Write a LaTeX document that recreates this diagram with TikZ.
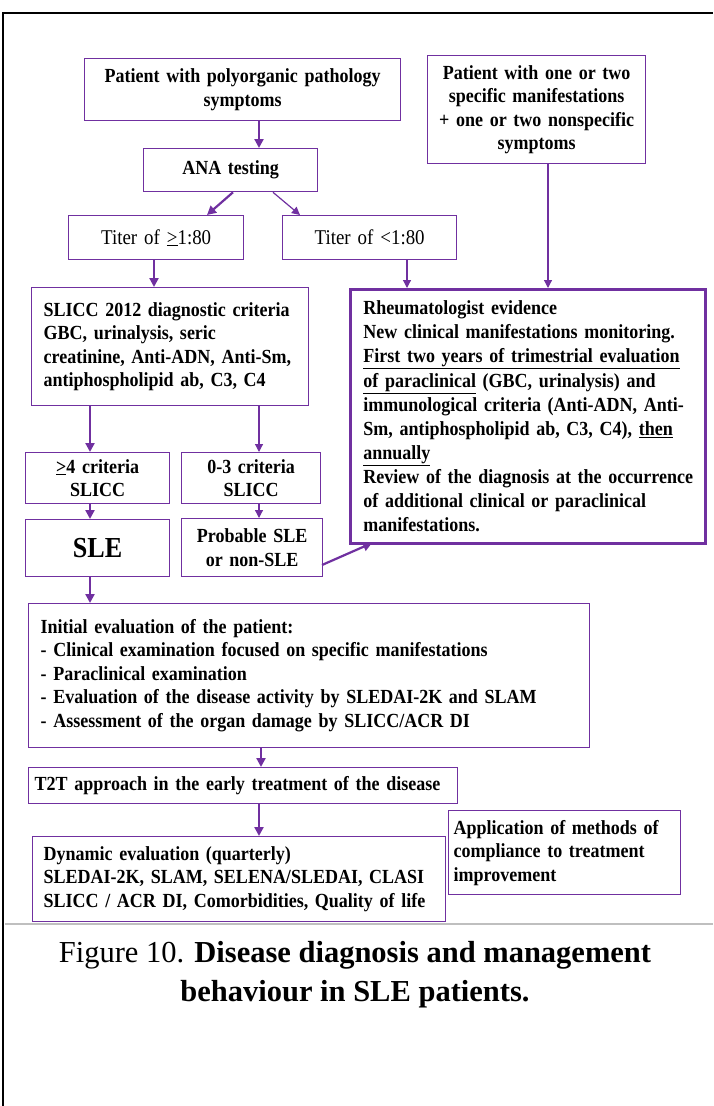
\documentclass[tikz,border=0pt]{standalone}
\usepackage{fontspec}
\setmainfont{Liberation Serif}
\newfontfamily\diag[FakeStretch=0.90]{Liberation Serif}
\usetikzlibrary{arrows.meta}
\definecolor{pur}{RGB}{112,48,160}
\hyphenpenalty=10000
\exhyphenpenalty=10000
\hbadness=10000
\hfuzz=40pt
\begin{document}
\begin{tikzpicture}[x=1pt,y=-1pt,
  boxbase/.style={draw=pur, line width=1.3pt, inner ysep=0pt, anchor=north west,
    font=\diag\bfseries\fontsize{20}{23.5}\selectfont},
  cbox/.style={boxbase, inner xsep=0pt, align=center},
  lbox/.style={boxbase, inner xsep=12pt, align=left},
  arr/.style={draw=pur, line width=2.2pt, -{Triangle[length=9pt,width=9pt]}},
  thinarr/.style={draw=pur, line width=1.2pt, -{Triangle[length=8pt,width=8pt]}}
]
\useasboundingbox (0,0) rectangle (713,1106);
% frame
\draw[line width=2pt] (3,1106) -- (3,13) -- (713,13);
\draw[black!25, line width=1.5pt] (5,924) -- (713,924);

% nodes
\node[cbox, text width=316pt, minimum height=62pt] (b1) at (84,58)
  {Patient with polyorganic pathology\\symptoms};
\node[cbox, text width=218pt, minimum height=108pt] (b2) at (427,55)
  {Patient with one or two\\specific manifestations\\+ one or two nonspecific\\symptoms};
\node[cbox, text width=174pt, minimum height=43pt] (ana) at (143,148) {ANA testing};
\node[cbox, text width=175pt, minimum height=44pt, font=\diag\fontsize{21}{23.5}\selectfont] (tge) at (68,215) {Titer of \underline{>}1:80};
\node[cbox, text width=174pt, minimum height=44pt, font=\diag\fontsize{21}{23.5}\selectfont] (tlt) at (282,215) {Titer of <1:80};
\node[lbox, text width=253pt, minimum height=118pt] (slicc) at (31,287)
  {SLICC 2012 diagnostic criteria\\GBC, urinalysis, seric\\creatinine, Anti-ADN, Anti-Sm,\\antiphospholipid ab, C3, C4};
\node[lbox, inner xsep=13pt, text width=329pt, minimum height=254pt, line width=2.8pt,
      font=\diag\bfseries\fontsize{20}{24.1}\selectfont] (rh) at (349,288)
  {\mbox{Rheumatologist evidence}\\
   \mbox{New clinical manifestations monitoring.}\\
   \mbox{\underline{First two years of trimestrial evaluation}}\\
   \mbox{\underline{of paraclinical} (GBC, urinalysis) and}\\
   \mbox{immunological criteria (Anti-ADN, Anti-}\\
   \mbox{Sm, antiphospholipid ab, C3, C4), \underline{then}}\\
   \mbox{\underline{annually}}\\
   \mbox{Review of the diagnosis at the occurrence}\\
   \mbox{of additional clinical or paraclinical}\\
   \mbox{manifestations.}};
\node[cbox, text width=144pt, minimum height=51pt] (ge4) at (25,452) {\underline{>}4 criteria\\SLICC};
\node[cbox, text width=139pt, minimum height=51pt] (c03) at (181,452) {0-3 criteria\\SLICC};
\node[cbox, text width=144pt, minimum height=57pt, font=\diag\bfseries\fontsize{29}{30}\selectfont] (sle) at (25,519) {SLE};
\node[cbox, text width=141pt, minimum height=58pt] (prob) at (181,518) {Probable SLE\\or non-SLE};
\node[lbox, text width=537pt, minimum height=144pt] (init) at (28,603)
  {Initial evaluation of the patient:\\- Clinical examination focused on specific manifestations\\- Paraclinical examination\\- Evaluation of the disease activity by SLEDAI-2K and SLAM\\- Assessment of the organ damage by SLICC/ACR DI};
\node[lbox, inner xsep=6pt, text width=417pt, minimum height=36pt] (t2t) at (28,767)
  {T2T approach in the early treatment of the disease};
\node[lbox, inner xsep=11pt, text width=391pt, minimum height=85pt] (dyn) at (32,836)
  {Dynamic evaluation (quarterly)\\SLEDAI-2K, SLAM, SELENA/SLEDAI, CLASI\\SLICC / ACR DI, Comorbidities, Quality of life};
\node[lbox, inner xsep=5pt, text width=222pt, minimum height=84pt] (app) at (448,810)
  {Application of methods of\\compliance to treatment\\improvement};

% caption
\node[font=\fontsize{30.5}{39}\selectfont, align=center, inner sep=0pt] (cap) at (355,975)
  {Figure 10. \textbf{Disease diagnosis and management}\\\textbf{behaviour in SLE patients.}};

% arrow x positions
\coordinate (x1) at (259,0);
\coordinate (xa1) at (233,0);
\coordinate (xa2) at (207,0);
\coordinate (xb1) at (273,0);
\coordinate (xb2) at (300,0);
\coordinate (x154) at (154,0);
\coordinate (x407) at (407,0);
\coordinate (x548) at (548,0);
\coordinate (x90) at (90,0);
\coordinate (x261) at (261,0);
\coordinate (pr) at (322,565);
\coordinate (rt) at (372,543);

\draw[arr] (b1.south -| x1) -- (ana.north -| x1);
\draw[arr] (ana.south -| xa1) -- (tge.north -| xa2);
\draw[thinarr] (ana.south -| xb1) -- (tlt.north -| xb2);
\draw[arr] (tge.south -| x154) -- (slicc.north -| x154);
\draw[thinarr] (tlt.south -| x407) -- (rh.north -| x407);
\draw[thinarr] (b2.south -| x548) -- (rh.north -| x548);
\draw[arr] (slicc.south -| x90) -- (ge4.north -| x90);
\draw[thinarr] (slicc.south -| x1) -- (c03.north -| x1);
\draw[arr] (ge4.south -| x90) -- (sle.north -| x90);
\draw[thinarr] (c03.south -| x1) -- (prob.north -| x1);
\draw[arr] (pr) -- (rt);
\draw[arr] (sle.south -| x90) -- (init.north -| x90);
\draw[arr] (init.south -| x261) -- (t2t.north -| x261);
\draw[arr] (t2t.south -| x1) -- (dyn.north -| x1);
\end{tikzpicture}
\end{document}
